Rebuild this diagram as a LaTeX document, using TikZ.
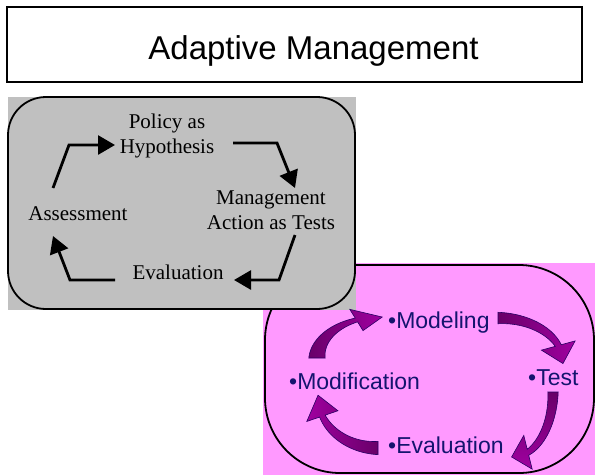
\documentclass[tikz,border=0pt]{standalone}
\usepackage{fontspec}
\setmainfont{Liberation Serif}
\newfontfamily\sansf{Liberation Sans}
\usetikzlibrary{arrows.meta}
\definecolor{boxgray}{RGB}{192,192,192}
\definecolor{boxpink}{RGB}{255,153,255}
\definecolor{navytext}{RGB}{20,20,110}
\definecolor{arrowdark}{RGB}{105,0,105}
\definecolor{arrowbright}{RGB}{160,0,160}
\definecolor{arrowedge}{RGB}{40,0,100}
\newcommand\curvedpurplearrow[1]{%
  \path[carrowfill, #1]
    plot[domain=180:112, samples=24] (\x:{1.13-0.08*(180-\x)/68})
    -- (112:1.28) -- (88:1.0) -- (112:0.72)
    -- plot[domain=112:180, samples=24] (\x:{0.87+0.08*(180-\x)/68})
    -- cycle;}
\begin{document}
\begin{tikzpicture}[x=1pt,y=-1pt,
  serifbox/.style={font=\fontsize{21}{25}\selectfont, inner sep=0pt, align=center},
  pinklabel/.style={font=\sansf\fontsize{23}{28}\selectfont, text=navytext, inner sep=0pt, anchor=base west},
  cyclearrow/.style={line width=2.8pt, -{Triangle[length=17pt,width=19pt]}},
  carrowfill/.style={draw=arrowedge, line width=0.6pt},
  frame/.style={line width=1.8pt}
]
\useasboundingbox (0,0) rectangle (595,475);
% pink panel
\fill[boxpink] (263,263) rectangle (595,475);
\draw[frame, rounded corners=75pt] (265,265) rectangle (594,473);
% gray panel
\fill[boxgray] (8,97) rectangle (356,310);
\draw[frame, rounded corners=38pt] (8,97) rectangle (355,309);
% title
\node[draw, frame, minimum width=575pt, minimum height=75pt, inner sep=0pt] (titlebox) at (294.5,44.5) {};
\node[font=\sansf\fontsize{33}{40}\selectfont, anchor=base, inner sep=0pt] (title) at (313.5,59) {Adaptive Management};

% gray cycle labels (base = baseline of last line)
\node[serifbox, anchor=base] (policy) at (167,153) {Policy as\\Hypothesis};
\node[serifbox, anchor=base] (mgmt) at (271,229) {Management\\Action as Tests};
\node[serifbox, anchor=base] (evalg) at (178,279) {Evaluation};
\node[serifbox, anchor=base] (assess) at (78,220) {Assessment};

% gray cycle arrows
\coordinate (g1s) at (53,188);  \coordinate (g1c) at (69,145);  \coordinate (g1e) at (115,145);
\coordinate (g2s) at (233,143); \coordinate (g2c) at (277,143); \coordinate (g2e) at (295,188);
\coordinate (g3s) at (295,235); \coordinate (g3c) at (279,280); \coordinate (g3e) at (234,280);
\coordinate (g4s) at (115,280); \coordinate (g4c) at (70,280);  \coordinate (g4e) at (53,236);
\draw[cyclearrow] (g1s) -- (g1c) -- (g1e);
\draw[cyclearrow] (g2s) -- (g2c) -- (g2e);
\draw[cyclearrow] (g3s) -- (g3c) -- (g3e);
\draw[cyclearrow] (g4s) -- (g4c) -- (g4e);

% pink cycle labels
\node[pinklabel] (modeling) at (388,328) {•Modeling};
\node[pinklabel] (modification) at (289,389) {•Modification};
\node[pinklabel] (test) at (528,385) {•Test};
\node[pinklabel] (evalp) at (388,453) {•Evaluation};

% pink cycle curved arrows
\begin{scope}[shift={(380,358)}, xscale=63, yscale=-41]
  \curvedpurplearrow{left color=arrowdark, right color=arrowbright}
\end{scope}
\begin{scope}[shift={(498,362)}, xscale=65, yscale=-44, rotate=90]
  \curvedpurplearrow{left color=arrowdark, right color=arrowbright}
\end{scope}
\begin{scope}[shift={(513,392)}, xscale=40, yscale=-65, rotate=180]
  \curvedpurplearrow{top color=arrowdark, bottom color=arrowbright}
\end{scope}
\begin{scope}[shift={(378,397)}, xscale=60, yscale=-51, rotate=270]
  \curvedpurplearrow{right color=arrowdark, left color=arrowbright}
\end{scope}
\end{tikzpicture}
\end{document}
